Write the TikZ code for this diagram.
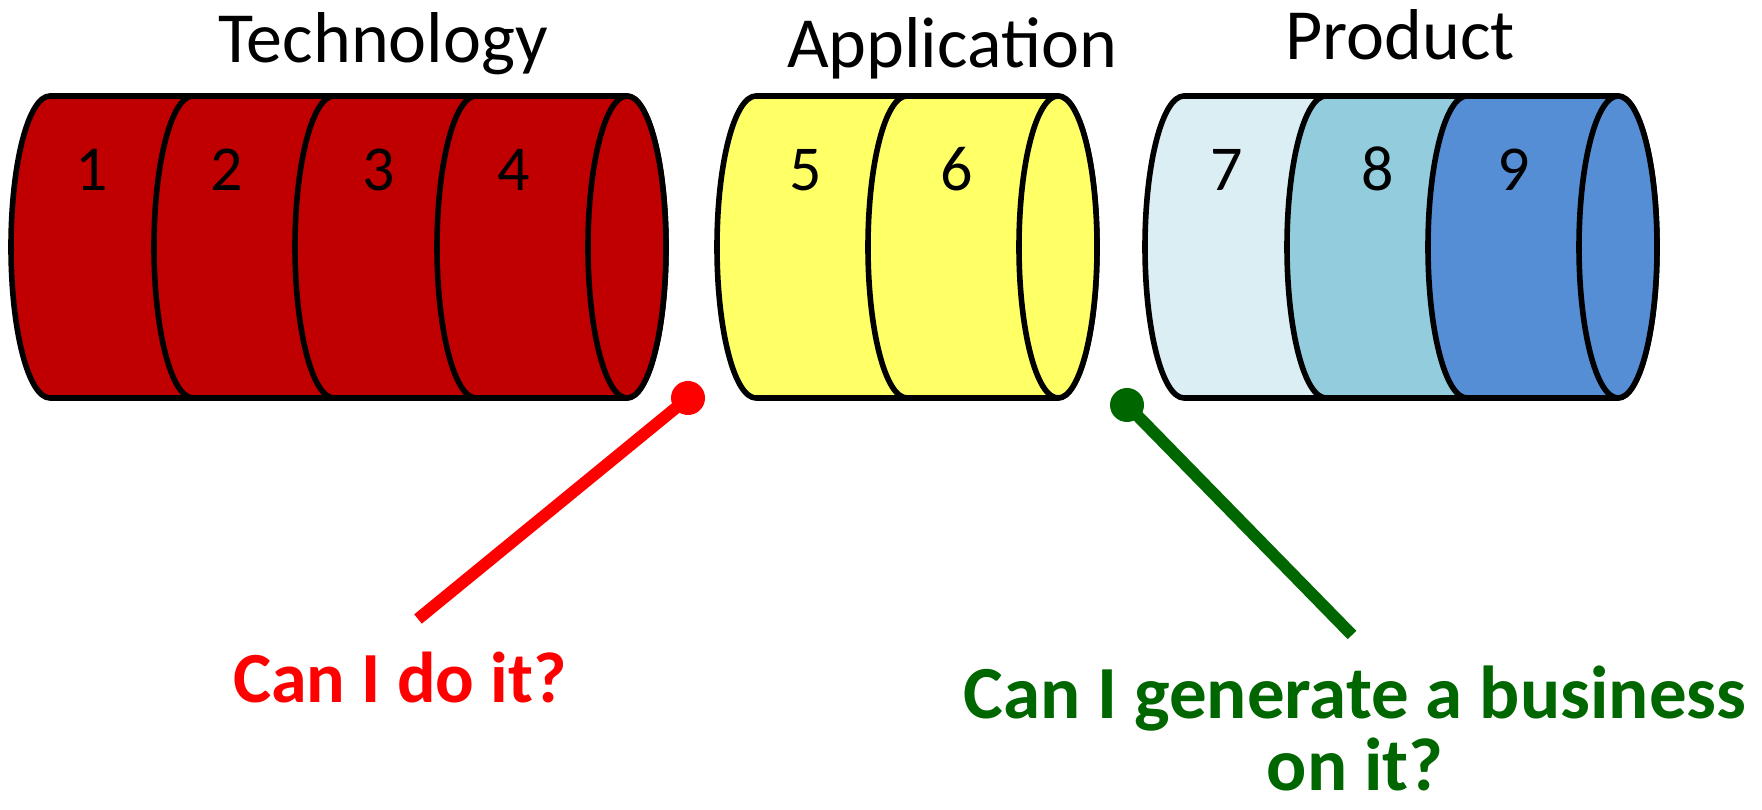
\documentclass[tikz,border=0pt]{standalone}
\usepackage{fontspec}
\setmainfont{Carlito}
\definecolor{cred}{HTML}{C00000}
\definecolor{cyel}{HTML}{FFFF66}
\definecolor{cb1}{HTML}{DBEEF4}
\definecolor{cb2}{HTML}{93CDDD}
\definecolor{cb3}{HTML}{558ED5}
\definecolor{lred}{HTML}{FF0000}
\definecolor{lgreen}{HTML}{006600}
\newcommand\cylseg[3]{\draw[outl, fill=#3] (#1,713) arc[start angle=90,end angle=270,x radius=39,y radius=151] -- (#2,411) arc[start angle=-90,end angle=90,x radius=39,y radius=151] -- cycle;}
\newcommand\cylcap[2]{\draw[outl, fill=#2] (#1,562) ellipse[x radius=39,y radius=151];}
\begin{document}
\begin{tikzpicture}[x=0.5pt,y=0.5pt,
  outl/.style={draw=black, line width=2.8pt, line join=round},
  title/.style={anchor=base, inner sep=0pt, font=\fontsize{36}{43}\selectfont},
  digit/.style={anchor=base, inner sep=0pt, font=\fontsize{32}{38}\selectfont},
  question/.style={anchor=base, inner sep=0pt, align=center, font=\fontsize{36}{35.5}\bfseries\selectfont},
  pointer/.style={line width=6pt}]
\useasboundingbox (0,0) rectangle (1762,809);
% Technology cylinder
\cylseg{50}{193}{cred}
\cylseg{193}{334}{cred}
\cylseg{334}{476}{cred}
\cylseg{476}{627}{cred}
\cylcap{627}{cred}
% Application cylinder
\cylseg{756}{907}{cyel}
\cylseg{907}{1058}{cyel}
\cylcap{1058}{cyel}
% Product cylinder
\cylseg{1184}{1326}{cb1}
\cylseg{1326}{1467}{cb2}
\cylseg{1467}{1618}{cb3}
\cylcap{1618}{cb3}
% titles
\node[title] (tech) at (383,746) {Technology};
\node[title] (app) at (952,741) {Application};
\node[title] (prod) at (1400,749) {Product};
% digits
\node[digit] (d1) at (92,618) {1};
\node[digit] (d2) at (227,618) {2};
\node[digit] (d3) at (379,618) {3};
\node[digit] (d4) at (514,618) {4};
\node[digit] (d5) at (806,618) {5};
\node[digit] (d6) at (957,618) {6};
\node[digit] (d7) at (1227,618) {7};
\node[digit] (d8) at (1378,618) {8};
\node[digit] (d9) at (1514,618) {9};
% pointers
\coordinate (rdot) at (688,411);
\coordinate (rend) at (418,190);
\coordinate (gdot) at (1127,404);
\coordinate (gend) at (1352,174);
\draw[pointer, lred] (rend) -- (rdot);
\fill[lred] (rdot) circle[radius=17];
\draw[pointer, lgreen] (gend) -- (gdot);
\fill[lgreen] (gdot) circle[radius=17];
% questions
\node[question, text=lred] (q1) at (400,106) {Can I do it?};
\node[question, text=lgreen, font=\fontsize{37.5}{35.5}\bfseries\selectfont] (q2) at (1355,19) {Can I generate a business\\on it?};
\end{tikzpicture}
\end{document}
